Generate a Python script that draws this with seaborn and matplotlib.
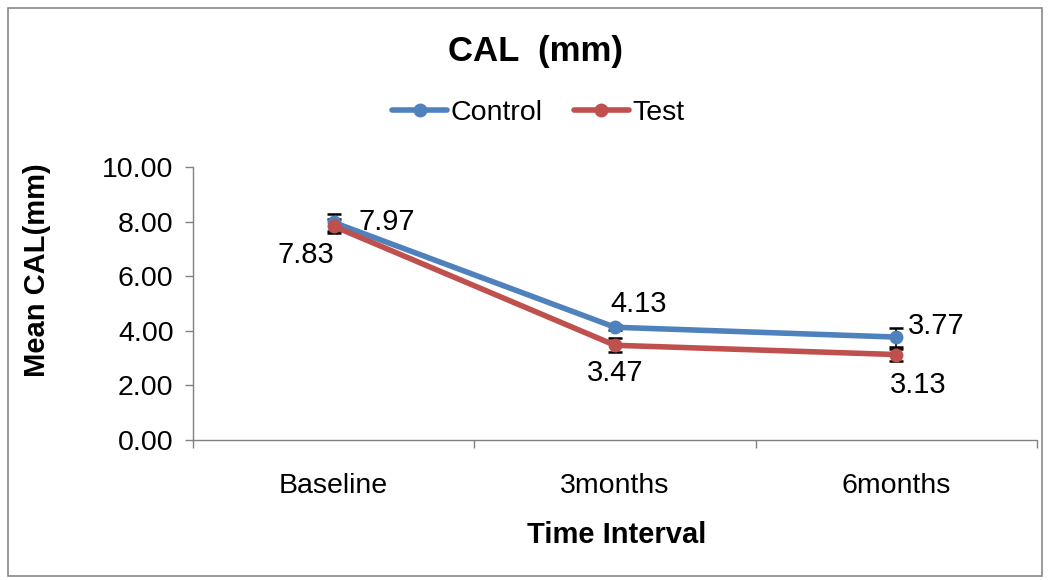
import matplotlib
matplotlib.use("Agg")
import matplotlib.pyplot as plt
import seaborn as sns
import pandas as pd
import numpy as np
from matplotlib.patches import Rectangle

categories = ["Baseline", "3months", "6months"]
control = [7.97, 4.13, 3.77]
test = [7.83, 3.47, 3.13]
control_err = [0.30, 0.10, 0.35]
test_err = [0.25, 0.25, 0.22]
series_names = ["Control", "Test"]
colors = ["#4F81BD", "#C0504D"]

sns.set_theme(style="white")
plt.rcParams['font.family'] = ['Liberation Sans', 'DejaVu Sans']
plt.rcParams['text.color'] = 'black'
plt.rcParams['axes.labelcolor'] = 'black'
plt.rcParams['xtick.color'] = 'black'
plt.rcParams['ytick.color'] = 'black'

df = pd.DataFrame({
    "Time": categories * 2,
    "Value": control + test,
    "Group": [series_names[0]] * 3 + [series_names[1]] * 3,
})

fig = plt.figure(figsize=(10.51, 5.8), dpi=100)
ax = fig.add_axes([193/1051, 1 - 440/580, (1037-193)/1051, (440-167)/580])

sns.lineplot(data=df, x="Time", y="Value", hue="Group", palette=colors,
             marker="o", markersize=10, linewidth=4, markeredgewidth=0,
             ax=ax, sort=False)

xs = np.arange(len(categories))
ax.errorbar(xs, control, yerr=control_err, fmt="none", ecolor="black",
            elinewidth=1.2, capsize=5, capthick=1.8, zorder=1)
ax.errorbar(xs, test, yerr=test_err, fmt="none", ecolor="black",
            elinewidth=1.2, capsize=5, capthick=1.8, zorder=1)

fs = 20.5
ax.set_xlim(-0.5, 2.5)
ax.set_ylim(0, 10)
ax.set_yticks(np.arange(0, 10.01, 2))
ax.set_yticklabels([f"{v:.2f}" for v in np.arange(0, 10.01, 2)], fontsize=fs)
ax.set_xticks(xs)
ax.set_xticklabels(categories, fontsize=fs)
ax.set_xticks([-0.5, 0.5, 1.5, 2.5], minor=True)
ax.tick_params(axis="x", which="major", bottom=True, length=0, pad=24)
ax.tick_params(axis="x", which="minor", bottom=True, length=6, width=1, color="#808080", direction="out")
ax.tick_params(axis="y", which="major", left=True, length=6, width=1, color="#808080",
               labelcolor="black", direction="out", pad=8)
for s in ["top", "right"]:
    ax.spines[s].set_visible(False)
for s in ["left", "bottom"]:
    ax.spines[s].set_color("#808080")
    ax.spines[s].set_linewidth(1)

ax.set_xlabel("Time Interval", fontsize=21, fontweight="bold", va="center")
ax.set_ylabel("Mean CAL(mm)", fontsize=21, fontweight="bold", va="center")
ax.xaxis.set_label_coords((617 - 193) / 844, (440 - 535) / 273)
ax.yaxis.set_label_coords((37 - 193) / 844, (440 - 270) / 273)

# data labels
lab_fs = 21
ax.annotate(f"{control[0]:.2f}", (0, control[0]), xytext=(18, 0), textcoords="offset points",
            fontsize=lab_fs, ha="left", va="center")
ax.annotate(f"{test[0]:.2f}", (0, test[0]), xytext=(-20, -21), textcoords="offset points",
            fontsize=lab_fs, ha="center", va="center")
ax.annotate(f"{control[1]:.2f}", (1, control[1]), xytext=(17, 17), textcoords="offset points",
            fontsize=lab_fs, ha="center", va="center")
ax.annotate(f"{test[1]:.2f}", (1, test[1]), xytext=(0, -20), textcoords="offset points",
            fontsize=lab_fs, ha="center", va="center")
ax.annotate(f"{control[2]:.2f}", (2, control[2]), xytext=(8, 8), textcoords="offset points",
            fontsize=lab_fs, ha="left", va="center")
ax.annotate(f"{test[2]:.2f}", (2, test[2]), xytext=(16, -22), textcoords="offset points",
            fontsize=lab_fs, ha="center", va="center")

leg = ax.legend(loc="center", bbox_to_anchor=(538/1051, 1 - 113/580),
                bbox_transform=fig.transFigure, ncol=2, frameon=False,
                fontsize=fs, handlelength=1.95, handletextpad=0.1, columnspacing=1.1)
for h in leg.get_lines():
    h.set_linewidth(4)
    h.set_markersize(10)
for t in leg.get_texts():
    t.set_color("black")

fig.text(536/1051, 1 - 52/580, "CAL  (mm)", fontsize=25, fontweight="bold",
         ha="center", va="center")

fig.patches.append(Rectangle((8/1051, 4/580), 1034/1051, 568/580, transform=fig.transFigure,
                             fill=False, edgecolor="#888888", linewidth=1.2))

fig.savefig("out.png", dpi=100)
